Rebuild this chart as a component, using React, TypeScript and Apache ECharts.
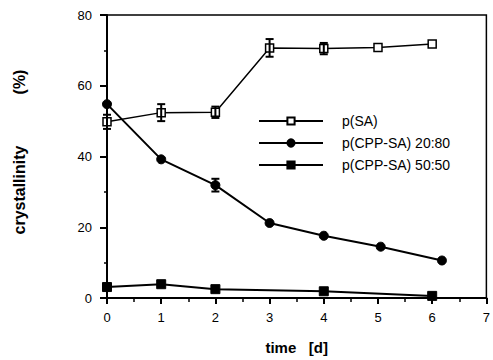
import React, { useEffect, useRef } from "react";
import * as echarts from "echarts";

const seriesNames = ["p(SA)", "p(CPP-SA) 20:80", "p(CPP-SA) 50:50"];

const pSADays = [0, 1, 2, 3, 4, 5, 6];
const pSA = [49.8, 52.4, 52.5, 70.7, 70.5, 70.8, 71.8];
const pSAErr = [2, 2.4, 1.6, 2.5, 1.6, 0, 0];

const cpp2080Days = [0, 1, 2, 3, 4, 5.05, 6.18];
const cpp2080 = [54.8, 39.2, 31.9, 21.2, 17.6, 14.5, 10.6];
const cpp2080Err = [0, 0, 1.8, 0, 0, 0, 0];

const cpp5050Days = [0, 1, 2, 4, 6];
const cpp5050 = [3.1, 3.9, 2.5, 1.9, 0.6];

const xTicks = [0, 1, 2, 3, 4, 5, 6, 7];
const yTicks = [0, 20, 40, 60, 80];

const FONT = "'Liberation Sans', Arial, Helvetica, sans-serif";

export default function App() {
  const ref = useRef<HTMLDivElement>(null);
  useEffect(() => {
    if (!ref.current) return;
    const chart = echarts.init(ref.current, null, { renderer: "svg" });

    const errData = [
      ...pSADays.map((d, i) => [d, pSA[i], pSAErr[i]]),
      ...cpp2080Days.map((d, i) => [d, cpp2080[i], cpp2080Err[i]]),
    ].filter((r) => r[2] > 0);

    const errRender = (params: any, api: any) => {
      const x = api.value(0);
      const y = api.value(1);
      const e = api.value(2);
      const top = api.coord([x, y + e]);
      const bot = api.coord([x, y - e]);
      const w = 4;
      const st = { stroke: "#000", lineWidth: 2 };
      return {
        type: "group",
        children: [
          { type: "line", shape: { x1: top[0], y1: top[1], x2: bot[0], y2: bot[1] }, style: st },
          { type: "line", shape: { x1: top[0] - w, y1: top[1], x2: top[0] + w, y2: top[1] }, style: st },
          { type: "line", shape: { x1: bot[0] - w, y1: bot[1], x2: bot[0] + w, y2: bot[1] }, style: st },
        ],
      };
    };

    chart.setOption({
      animation: false,
      backgroundColor: "#fff",
      textStyle: { fontFamily: FONT },
      grid: {
        left: 107,
        right: 4,
        top: 15,
        bottom: 59,
        show: true,
        borderColor: "#000",
        borderWidth: 1.5,
        backgroundColor: "transparent",
      },
      legend: {
        orient: "vertical",
        left: 258,
        top: 114,
        padding: 0,
        itemWidth: 64,
        itemHeight: 9,
        itemGap: 8,
        data: seriesNames,
        textStyle: { fontFamily: FONT, fontSize: 14, color: "#000", padding: [0, 0, 0, 14] },
      },
      xAxis: {
        type: "value",
        min: 0,
        max: 7,
        interval: 1,
        axisLine: { onZero: false, lineStyle: { color: "#000", width: 2 } },
        axisTick: { length: 6, lineStyle: { color: "#000", width: 2 } },
        minorTick: { show: true, splitNumber: 2, length: 4, lineStyle: { color: "#000", width: 1.5 } },
        splitLine: { show: false },
        axisLabel: {
          margin: 13,
          fontSize: 13,
          color: "#000",
          fontFamily: FONT,
          formatter: (v: number) => (xTicks.includes(v) ? String(v) : ""),
        },
        name: "time   [d]",
        nameLocation: "middle",
        nameGap: 42,
        nameTextStyle: { fontSize: 15, fontWeight: "bold", color: "#000", fontFamily: FONT },
      },
      yAxis: {
        type: "value",
        min: 0,
        max: 80,
        interval: 20,
        axisLine: { onZero: false, lineStyle: { color: "#000", width: 2 } },
        axisTick: { length: 7, lineStyle: { color: "#000", width: 2 } },
        minorTick: { show: true, splitNumber: 2, length: 3, lineStyle: { color: "#000", width: 1.5 } },
        splitLine: { show: false },
        axisLabel: {
          margin: 15,
          fontSize: 13,
          color: "#000",
          fontFamily: FONT,
          formatter: (v: number) => (yTicks.includes(v) ? String(v) : ""),
        },
      },
      graphic: [
        {
          type: "text",
          x: 19,
          y: 190,
          rotation: Math.PI / 2,
          style: {
            text: "crystallinity",
            fontSize: 16,
            fontWeight: "bold",
            fontFamily: FONT,
            fill: "#000",
            align: "center",
            verticalAlign: "middle",
          },
        },
        {
          type: "text",
          x: 19,
          y: 82,
          rotation: Math.PI / 2,
          style: {
            text: "(%)",
            fontSize: 16,
            fontWeight: "bold",
            fontFamily: FONT,
            fill: "#000",
            align: "center",
            verticalAlign: "middle",
          },
        },
      ],
      series: [
        {
          name: seriesNames[0],
          type: "line",
          data: pSADays.map((d, i) => [d, pSA[i]]),
          symbol: "rect",
          symbolSize: 8,
          lineStyle: { color: "#000", width: 1.5 },
          itemStyle: { color: "#fff", borderColor: "#000", borderWidth: 1.5 },
          z: 3,
        },
        {
          name: seriesNames[1],
          type: "line",
          data: cpp2080Days.map((d, i) => [d, cpp2080[i]]),
          symbol: "circle",
          symbolSize: 9,
          lineStyle: { color: "#000", width: 2 },
          itemStyle: { color: "#000", borderColor: "#000", borderWidth: 1 },
          z: 3,
        },
        {
          name: seriesNames[2],
          type: "line",
          data: cpp5050Days.map((d, i) => [d, cpp5050[i]]),
          symbol: "rect",
          symbolSize: 9,
          lineStyle: { color: "#000", width: 2 },
          itemStyle: { color: "#000", borderColor: "#000", borderWidth: 1 },
          z: 3,
        },
        {
          type: "custom",
          renderItem: errRender,
          data: errData,
          z: 4,
          silent: true,
        },
      ],
    });
    return () => chart.dispose();
  }, []);
  return <div ref={ref} style={{ width: 493, height: 360, position: "absolute", left: 0, top: 0 }} />;
}
